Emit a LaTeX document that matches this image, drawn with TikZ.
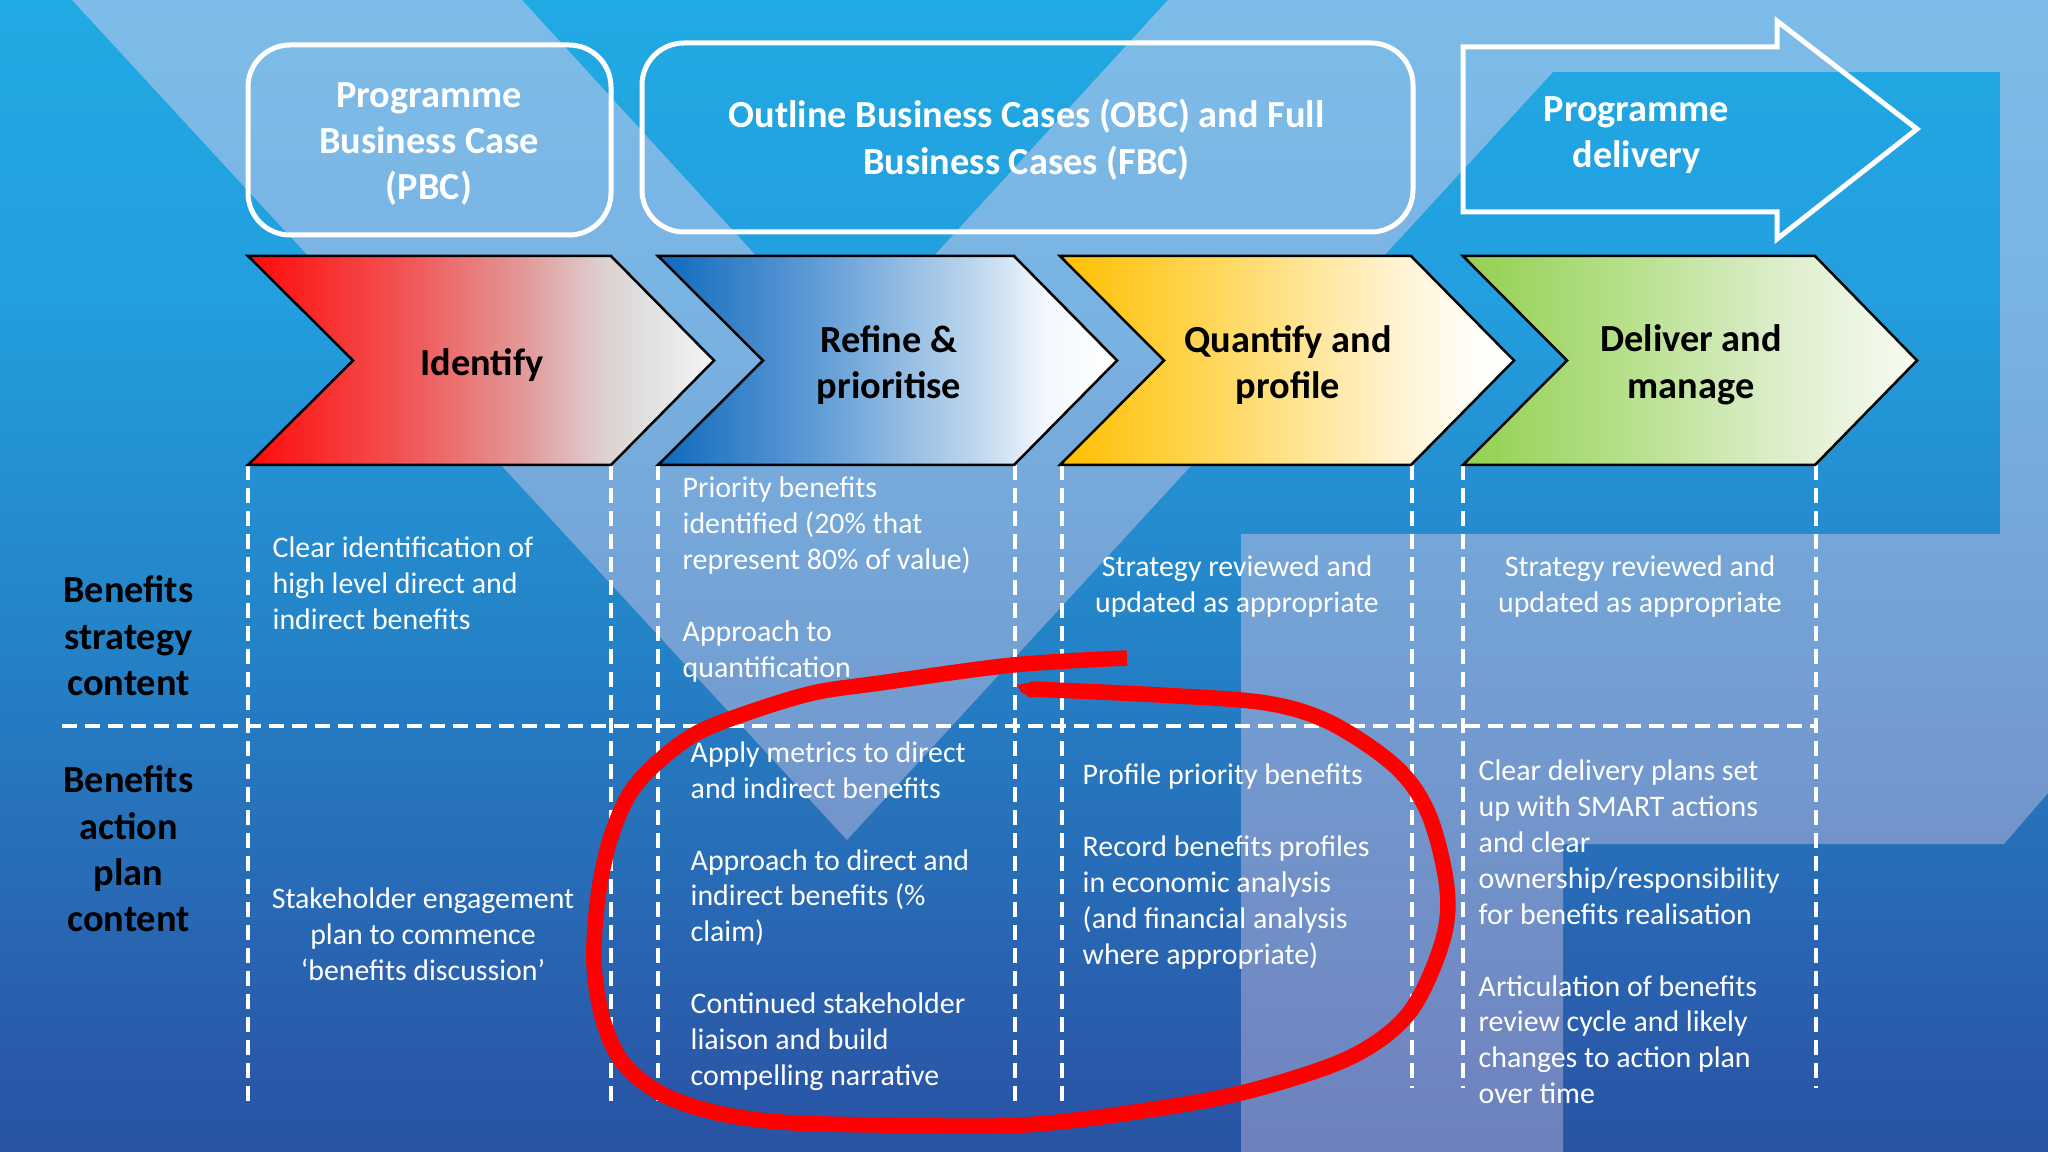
\documentclass[tikz,border=0pt]{standalone}
\usepackage{fontspec}
\setmainfont{Carlito}
\usetikzlibrary{positioning}

\definecolor{slideT}{RGB}{32,170,228}
\definecolor{slideA}{RGB}{35,158,222}
\definecolor{slideB}{RGB}{36,132,200}
\definecolor{slideC}{RGB}{42,90,170}
\definecolor{slideD}{RGB}{40,83,163}
\definecolor{veilT}{RGB}{255,215,238}
\definecolor{veilB}{RGB}{205,195,225}
\definecolor{redmark}{RGB}{255,0,0}
\definecolor{idA}{RGB}{255,10,10}
\definecolor{idB}{RGB}{240,90,90}
\definecolor{idC}{RGB}{226,155,155}
\definecolor{idD}{RGB}{222,208,208}
\definecolor{idE}{RGB}{222,222,222}
\definecolor{idF}{RGB}{245,245,245}
\definecolor{reA}{RGB}{15,105,188}
\definecolor{reB}{RGB}{95,155,213}
\definecolor{reC}{RGB}{191,216,238}
\definecolor{reD}{RGB}{243,247,252}
\definecolor{quA}{RGB}{255,190,0}
\definecolor{quB}{RGB}{255,215,90}
\definecolor{quC}{RGB}{255,240,197}
\definecolor{quD}{RGB}{255,253,246}
\definecolor{deA}{RGB}{146,208,80}
\definecolor{deB}{RGB}{180,223,135}
\definecolor{deC}{RGB}{220,238,203}
\definecolor{deD}{RGB}{248,251,242}
% stops run from 25bp (one side) to 75bp (the other)
\pgfdeclareverticalshading{slidebg}{100bp}{
  color(0bp)=(slideD); color(25bp)=(slideD); color(29bp)=(slideC);
  color(48bp)=(slideB); color(62bp)=(slideA); color(75bp)=(slideT); color(100bp)=(slideT)}
\pgfdeclarehorizontalshading{identifyfill}{100bp}{
  color(0bp)=(idA); color(25bp)=(idA); color(43bp)=(idB); color(55bp)=(idC);
  color(63bp)=(idD); color(67bp)=(idE); color(75bp)=(idF); color(100bp)=(idF)}
\pgfdeclarehorizontalshading{refinefill}{100bp}{
  color(0bp)=(reA); color(25bp)=(reA); color(42bp)=(reB); color(60bp)=(reC);
  color(67bp)=(reD); color(75bp)=(white); color(100bp)=(white)}
\pgfdeclarehorizontalshading{quantifyfill}{100bp}{
  color(0bp)=(quA); color(25bp)=(quA); color(42bp)=(quB); color(60bp)=(quC);
  color(70bp)=(quD); color(75bp)=(white); color(100bp)=(white)}
\pgfdeclarehorizontalshading{deliverfill}{100bp}{
  color(0bp)=(deA); color(25bp)=(deA); color(42bp)=(deB); color(60bp)=(deC);
  color(75bp)=(deD); color(100bp)=(deD)}

\tikzset{
  bigtxt/.style={font=\bfseries\fontsize{10.9}{13.2}\selectfont, align=center, inner sep=0},
  bodytxt/.style={text=white, font=\fontsize{8.5}{10.2}\selectfont, inner sep=0},
  headbox/.style={draw=white, line width=.05cm, rounded corners=.42cm, inner sep=0},
  gridline/.style={draw=white, line width=.035cm, dash pattern=on .15cm off .08cm},
}

\begin{document}
\begin{tikzpicture}[y=-1cm]
	\useasboundingbox (0,0) rectangle (20.48,11.52);
	\shade[shading=slidebg] (0,0) rectangle (20.48,11.52);

	% pale logo shapes behind everything
	\shade[top color=veilT, bottom color=veilB, opacity=.42] (.72,0) -- (5.22,0) -- (8.45,3.53) -- (11.68,0) -- (20.48,0) -- (20.48,7.93)
		-- (20.04,8.44) -- (15.63,8.44) -- (15.63,11.52) -- (12.41,11.52) -- (12.41,5.34) -- (20,5.34)
		-- (20,.72) -- (15.53,.72) -- (8.47,8.4) -- cycle;

	% top row
	\node[headbox, minimum width=3.63cm, minimum height=1.9cm] (pbc) at (4.295,1.4) {};
	\node[bigtxt, text=white] at (4.29,1.44) {Programme\\Business Case\\(PBC)};
	\node[headbox, minimum width=7.71cm, minimum height=1.89cm] (obc) at (10.275,1.375) {};
	\node[bigtxt, text=white] at (10.265,1.395) {Outline Business Cases (OBC) and Full\\Business Cases (FBC)};
	\draw[white, line width=.05cm] (14.63,.47) -- (17.77,.47) -- (17.77,.21) -- (19.17,1.29) -- (17.77,2.39) -- (17.77,2.12) -- (14.63,2.12) -- cycle;
	\node[bigtxt, text=white] (delivery) at (16.365,1.35) {Programme\\delivery};

	% column rules
	\foreach \x/\yb in {2.48/11.06, 6.11/11.06, 6.58/11.06, 10.15/11.06, 10.62/11.06, 14.12/10.88, 14.63/10.88, 18.16/10.88}
		\draw[gridline] (\x,4.65) -- (\x,\yb);
	\draw[gridline] (.62,7.26) -- (18.16,7.26);

	% chevrons
	\foreach \name/\lft/\ntch/\rgt/\tp/\txtx/\txt in {
		identify/2.48/3.53/6.11/7.14/4.82/{Identify},
		refine/6.58/7.63/10.14/11.17/8.89/{Refine \&\\prioritise},
		quantify/10.6/11.64/14.11/15.14/12.88/{Quantify and\\profile},
		deliver/14.63/15.67/18.15/19.17/16.91/{Deliver and\\manage}}{
		\shadedraw[draw=black, line width=.025cm, shading=\name fill]
			(\lft,2.56) -- (\rgt,2.56) -- (\tp,3.605) -- (\rgt,4.65) -- (\lft,4.65) -- (\ntch,3.605) -- cycle;
		\node[bigtxt] (\name) at (\txtx,3.65) {\txt};
	}

	% row titles
	\node[bigtxt] (strategy) at (1.285,6.36) {Benefits\\strategy\\content};
	\node[bigtxt] (action) at (1.285,8.49) {Benefits\\action\\plan\\content};

	% cell texts
	\node[bodytxt, align=left, anchor=west] (a1) at (2.72,5.83) {Clear identification of\\high level direct and\\indirect benefits};
	\node[bodytxt, align=center] (a2) at (4.23,9.34) {Stakeholder engagement\\plan to commence\\‘benefits discussion’};
	\node[bodytxt, align=left, anchor=west] (b1) at (6.82,5.795) {Priority benefits\\identified (20\% that\\represent 80\% of value)\\[10.2pt]Approach to\\quantification};
	\node[bodytxt, align=left, anchor=west] (b2) at (6.9,9.16) {Apply metrics to direct\\and indirect benefits\\[10.2pt]Approach to direct and\\indirect benefits (\%\\claim)\\[10.2pt]Continued stakeholder\\liaison and build\\compelling narrative};
	\node[bodytxt, align=center] (c1) at (12.37,5.865) {Strategy reviewed and\\updated as appropriate};
	\node[bodytxt, align=left, anchor=west] (c2) at (10.82,8.665) {Profile priority benefits\\[10.2pt]Record benefits profiles\\in economic analysis\\(and financial analysis\\where appropriate)};
	\node[bodytxt, align=center] (d1) at (16.4,5.865) {Strategy reviewed and\\updated as appropriate};
	\node[bodytxt, align=left, anchor=west] (d2) at (14.78,9.32) {Clear delivery plans set\\up with SMART actions\\and clear\\ownership/responsibility\\for benefits realisation\\[10.2pt]Articulation of benefits\\review cycle and likely\\changes to action plan\\over time};

	% hand drawn ring
	\draw[redmark, line width=.155cm, line join=round] plot[smooth, tension=.55] coordinates {
		(11.27,6.58) (10.13,6.65) (8.8,6.83) (8.13,6.93) (7.47,7.13) (6.97,7.33) (6.6,7.6) (6.3,7.93) (6.1,8.4) (5.98,8.97) (5.94,9.63)
		(6.03,10.2) (6.23,10.63) (6.6,10.93) (7.13,11.12) (7.8,11.22) (8.8,11.25) (10.24,11.25) (11.55,11.09) (12.53,10.9) (13.51,10.57)
		(14.09,10.13) (14.42,9.43) (14.47,8.88) (14.29,8.15) (13.96,7.67) (13.31,7.23) (12.66,7.03) (11.6,6.95) (10.3,6.89)};
	\fill[redmark] (10.17,6.85) -- (10.33,6.82) -- (10.36,6.97) -- (10.3,6.975) -- (10.21,6.92) -- cycle;
\end{tikzpicture}
\end{document}
